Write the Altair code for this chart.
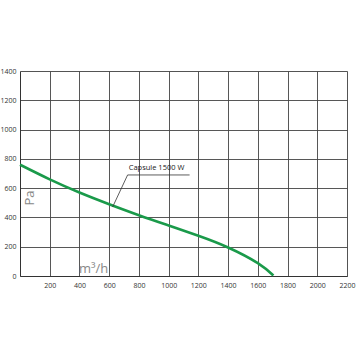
import altair as alt
import pandas as pd

flow = [0, 200, 400, 600, 800, 1000, 1200, 1400, 1600, 1705]
pressure = [760, 660, 570, 490, 415, 345, 275, 195, 88, 3]

x_ticks = [200, 400, 600, 800, 1000, 1200, 1400, 1600, 1800, 2000, 2200]
y_ticks = [0, 200, 400, 600, 800, 1000, 1200, 1400]

label_text = ["Capsule 1500 W"]
label_x = [731]
label_y = [708]
under_x = [724, 1141]
under_y = [690, 690]
leader_x = [724, 623]
leader_y = [690, 471]

df = pd.DataFrame({"q": flow, "p": pressure})

xs = alt.Scale(domain=[0, 2200], nice=False, zero=False)
ys = alt.Scale(domain=[0, 1400], nice=False)

xaxis = alt.Axis(values=x_ticks, title=None, grid=True, gridColor="#444", gridWidth=0.9,
                 domainColor="#333", ticks=False, labelFont="Open Sans", labelFontSize=7,
                 labelColor="#333", labelPadding=5, format="d", labelOverlap=False,
                 labelFlush=False)
yaxis = alt.Axis(values=y_ticks, title=None, grid=True, gridColor="#444", gridWidth=0.9,
                 domainColor="#333", ticks=False, labelFont="Open Sans", labelFontSize=7,
                 labelColor="#333", labelPadding=4, format="d", labelOverlap=False,
                 labelFlush=False)

X = lambda f: alt.X(f, type="quantitative", scale=xs, axis=xaxis)
Y = lambda f: alt.Y(f, type="quantitative", scale=ys, axis=yaxis)

curve = alt.Chart(df).mark_line(color="#1a9a4a", strokeWidth=2.6, interpolate="natural").encode(
    x=X("q"), y=Y("p"))

under = alt.Chart(pd.DataFrame({"q": under_x, "p": under_y})).mark_line(color="#333", strokeWidth=0.8).encode(
    x=X("q"), y=Y("p"))
leader = alt.Chart(pd.DataFrame({"q": leader_x, "p": leader_y})).mark_line(color="#333", strokeWidth=0.8).encode(
    x=X("q"), y=Y("p"))

label = alt.Chart(pd.DataFrame({"q": label_x, "p": label_y, "t": label_text})).mark_text(
    align="left", baseline="bottom", font="Open Sans", fontSize=7.5, color="#222").encode(
    x=X("q"), y=Y("p"), text="t:N")

pa = alt.Chart(pd.DataFrame({"t": ["Pa"]})).mark_text(
    angle=270, font="Open Sans", fontSize=13, color="#888").encode(
    x=alt.value(10), y=alt.value(127), text="t:N")
m3 = alt.Chart(pd.DataFrame({"t": ["m³/h"]})).mark_text(
    align="left", baseline="bottom", font="Open Sans", fontSize=13, color="#888").encode(
    x=alt.value(59), y=alt.value(205), text="t:N")

chart = alt.layer(curve, under, leader, label, pa, m3).properties(
    width=327, height=205,
    autosize=alt.AutoSizeParams(type="none"),
    padding={"left": 20, "top": 71, "right": 9, "bottom": 80},
).configure_view(stroke=None).configure(background="white")

chart.save("out.html", embed_options={"renderer": "svg", "actions": False})
